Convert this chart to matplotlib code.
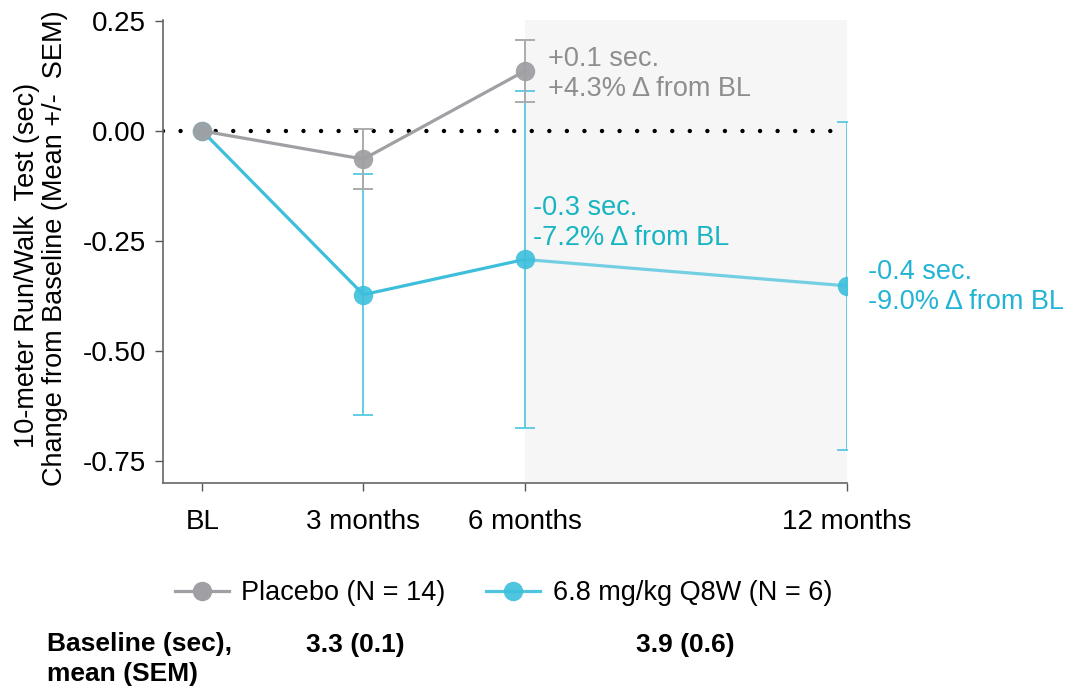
import matplotlib
matplotlib.use("Agg")
import matplotlib.pyplot as plt
from matplotlib.lines import Line2D

plt.rcParams['font.family'] = ['Liberation Sans', 'DejaVu Sans']

# Visit schedule (months from baseline) and axis labels
months = [0, 3, 6, 12]
tick_labels = ["BL", "3 months", "6 months", "12 months"]
y_ticks = [0.25, 0.00, -0.25, -0.50, -0.75]

# Change from baseline, mean and SEM
placebo_months = [0, 3, 6]
placebo_mean = [0.0, -0.064, 0.136]
placebo_sem = [0.0, 0.068, 0.070]

dose_months = [0, 3, 6, 12]
dose_mean = [0.0, -0.372, -0.292, -0.352]
dose_sem = [0.0, 0.274, 0.383, 0.372]

placebo_label = "Placebo (N = 14)"
dose_label = "6.8 mg/kg Q8W (N = 6)"

placebo_note = "+0.1 sec.\n+4.3% \u0394 from BL"
dose_note_6 = "-0.3 sec.\n-7.2% \u0394 from BL"
dose_note_12 = "-0.4 sec.\n-9.0% \u0394 from BL"

ylabel_top = "10-meter Run/Walk  Test (sec)"
ylabel_bottom = "Change from Baseline (Mean +/-  SEM)"

baseline_title = "Baseline (sec),\nmean (SEM)"
baseline_placebo = "3.3 (0.1)"
baseline_dose = "3.9 (0.6)"

GRAY = "#A0A0A4"
GRAY_ERR = "#ABABAB"
CYAN = "#3DBFDC"
CYAN_ERR = "#62CCE4"

fig = plt.figure(figsize=(10.68, 6.86), dpi=100)
ax = fig.add_axes([0.1526, 0.2959, 0.7931 - 0.1526, 0.9708 - 0.2959])

ax.set_xlim(-0.73, 12.0)
ax.set_ylim(-0.80, 0.252)

# open-label extension period shading
ax.axvspan(6, 12, color="#F6F6F6", zorder=0, lw=0)

# zero reference line
ax.axhline(0, color="black", lw=3.2, ls=(0, (0.001, 3.95)),
           dash_capstyle="round", zorder=1)

# treatment arm
ax.errorbar(dose_months[1:], dose_mean[1:], yerr=dose_sem[1:], fmt="none",
            ecolor=CYAN_ERR, elinewidth=1.4, capsize=7, capthick=1.4, zorder=2)
ax.plot(dose_months[:3], dose_mean[:3], color=CYAN, lw=2.3, zorder=3)
ax.plot(dose_months[2:], dose_mean[2:], color=CYAN, lw=2.3, alpha=0.7, zorder=3)
ax.plot(dose_months, dose_mean, "o", ms=14, color=CYAN, alpha=0.9,
        mew=0, zorder=4)

# placebo arm
ax.errorbar(placebo_months[1:], placebo_mean[1:], yerr=placebo_sem[1:],
            fmt="none", ecolor=GRAY_ERR, elinewidth=1.4, capsize=7,
            capthick=1.4, zorder=5)
ax.plot(placebo_months, placebo_mean, color=GRAY, lw=2.3, zorder=6)
ax.plot(placebo_months, placebo_mean, "o", ms=14, color=GRAY, alpha=0.95,
        mew=0, zorder=7)

# value annotations
ax.annotate(placebo_note, xy=(placebo_months[2], placebo_mean[2]),
            xytext=(17, -2), textcoords="offset points", va="center",
            ha="left", fontsize=19.5, color="#8E8E8E", linespacing=1.2)
ax.annotate(dose_note_6, xy=(dose_months[2], dose_mean[2]),
            xytext=(6, 26), textcoords="offset points", va="center",
            ha="left", fontsize=19.5, color="#17B5C3", linespacing=1.2)
ax.annotate(dose_note_12, xy=(dose_months[3], dose_mean[3]),
            xytext=(15, -1), textcoords="offset points", va="center",
            ha="left", fontsize=19.5, color="#22B4D4", linespacing=1.2)

# axes styling
for side in ("top", "right"):
    ax.spines[side].set_visible(False)
for side in ("left", "bottom"):
    ax.spines[side].set_color("#666666")
    ax.spines[side].set_linewidth(1.2)

ax.set_xticks(months)
ax.set_xticklabels(tick_labels)
ax.set_yticks(y_ticks)
ax.set_yticklabels([f"{v:.2f}" for v in y_ticks])
ax.tick_params(axis="both", length=6, width=1, color="#555555",
               labelsize=20, labelcolor="black")
ax.tick_params(axis="x", pad=13)
ax.tick_params(axis="y", pad=6)

# two-line y-axis title
fig.text(27 / 1068, 1 - 265 / 686, ylabel_top, rotation=90, ha="center",
         va="center", fontsize=19.5)
fig.text(55 / 1068, 1 - 248 / 686, ylabel_bottom, rotation=90, ha="center",
         va="center", fontsize=19.5)

# legend
handles = [
    Line2D([], [], color=GRAY, lw=2.3, marker="o", ms=14, mew=0),
    Line2D([], [], color=CYAN, lw=2.3, marker="o", ms=14, mew=0, alpha=0.9),
]
fig.legend(handles, [placebo_label, dose_label], loc="center",
           bbox_to_anchor=(0.4715, 0.135), ncol=2, frameon=False,
           fontsize=19.5, handlelength=2.0, handletextpad=0.45,
           columnspacing=1.5)

# baseline summary row
row_y = 1 - 645 / 686
fig.text(0.044, row_y + 0.019, baseline_title, ha="left", va="top",
         fontsize=19, fontweight="bold", linespacing=1.3)
fig.text(306 / 1068, row_y, baseline_placebo, ha="left",
         va="center", fontsize=19, fontweight="bold")
fig.text(636 / 1068, row_y, baseline_dose, ha="left",
         va="center", fontsize=19, fontweight="bold")

fig.savefig("out.png", dpi=100)
